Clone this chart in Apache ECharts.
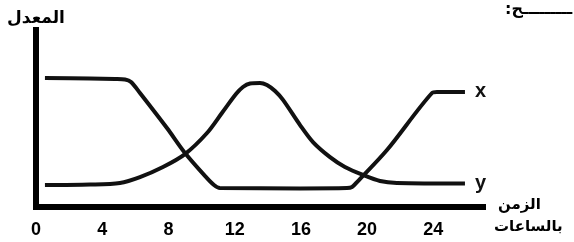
<!DOCTYPE html>
<html>
<head>
<meta charset="utf-8">
<script src="https://cdn.jsdelivr.net/npm/echarts@6/dist/echarts.min.js"></script>
<style>html,body{margin:0;padding:0;background:#fff;}#c{width:574px;height:242px;}</style>
</head>
<body>
<div id="c"></div>
<script>
// Time in hours (x) and rate (arbitrary units)
const xTickLabels = [0, 4, 8, 12, 16, 20, 24];
const seriesXHours = [0.54, 3.26, 4.77, 5.38, 5.74, 6.28, 7.91, 9.0, 10.21, 10.75, 11.11, 15.95, 18.78, 19.09, 19.39, 21.2, 23.92, 24.22, 25.91];
const seriesXRate  = [7.29, 7.26, 7.23, 7.2, 7.06, 6.44, 4.46, 3.05, 1.75, 1.24, 1.07, 1.05, 1.07, 1.13, 1.41, 3.22, 6.44, 6.5, 6.5];
const seriesYHours = [0.54, 3.26, 5.07, 6.28, 7.67, 9.0, 10.33, 11.23, 12.08, 12.5, 12.93, 13.53, 13.95, 14.44, 14.92, 15.95, 16.73, 17.76, 18.66, 19.75, 20.78, 21.8, 25.91];
const seriesYRate  = [1.24, 1.27, 1.36, 1.69, 2.26, 2.99, 4.18, 5.31, 6.38, 6.78, 6.98, 7.01, 6.89, 6.55, 6.05, 4.63, 3.67, 2.82, 2.26, 1.81, 1.47, 1.36, 1.33];

const toPairs = (h, r) => h.map((v, i) => [v, r[i]]);

const chart = echarts.init(document.getElementById('c'), null, {renderer: 'canvas'});
const ink = '#111';
const lineSeries = (name, data) => ({
  name, type: 'line', data, showSymbol: false, smooth: 0.3,
  lineStyle: {color: ink, width: 4}, itemStyle: {color: ink},
  endLabel: {show: true, formatter: name, distance: 10, color: ink,
    fontFamily: 'Liberation Sans', fontWeight: 'bold', fontSize: 20},
  animation: false
});

chart.setOption({
  animation: false,
  grid: {left: 36, right: 91, top: 30, bottom: 35},
  xAxis: {
    type: 'value', min: 0, max: 27, interval: 4,
    axisLine: {show: true, lineStyle: {color: '#000', width: 6, cap: 'square'}},
    axisTick: {show: false}, splitLine: {show: false},
    axisLabel: {
      margin: 14, color: '#000', fontFamily: 'Liberation Sans', fontWeight: 'bold', fontSize: 18,
      formatter: v => xTickLabels.includes(v) ? String(v) : ''
    }
  },
  yAxis: {
    type: 'value', min: 0, max: 10,
    name: 'المعدل', nameLocation: 'end', nameGap: 3,
    nameTextStyle: {color: '#000', fontFamily: 'DejaVu Sans', fontWeight: 'bold', fontSize: 17, align: 'center'},
    axisLine: {show: true, lineStyle: {color: '#000', width: 6, cap: 'square'}},
    axisTick: {show: false}, splitLine: {show: false}, axisLabel: {show: false}
  },
  graphic: [
    {type: 'text', left: 498, top: 198, style: {text: 'الزمن', fill: '#000', font: 'bold 15px "DejaVu Sans"'}},
    {type: 'text', left: 494, top: 220, style: {text: 'بالساعات', fill: '#000', font: 'bold 15px "DejaVu Sans"'}},
    {type: 'text', left: 505, top: 2, style: {text: ':ـــــــــح', fill: '#000', font: 'bold 16px "DejaVu Sans"'}}
  ],
  series: [
    lineSeries('x', toPairs(seriesXHours, seriesXRate)),
    lineSeries('y', toPairs(seriesYHours, seriesYRate))
  ]
});
</script>
</body>
</html>
